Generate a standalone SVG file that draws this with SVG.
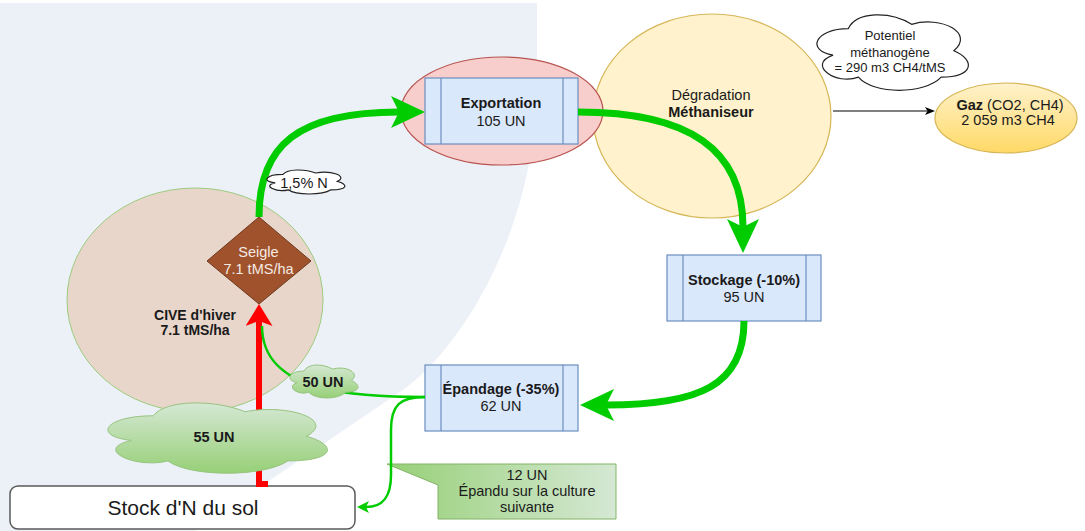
<svg xmlns="http://www.w3.org/2000/svg" width="1085" height="531" viewBox="0 0 1085 531">
<style>
.t{font-family:"Liberation Sans",Arial,Helvetica,sans-serif;font-size:14.5px;fill:#1a1a1a;text-anchor:middle}
.b{font-weight:bold}
.box{fill:#dae8fc;stroke:#6c8ebf;stroke-width:1.2}
.inner{stroke:#6c8ebf;stroke-width:1.2}
.thick{fill:none;stroke:#00cc00;stroke-width:7}
.thin{fill:none;stroke:#00cc00;stroke-width:2.5}
.gc{fill:url(#gGreen);stroke:#97c47f;stroke-width:1}
.wc{fill:#ffffff;stroke:#222222;stroke-width:1.2}
</style>
<defs>
<path id="cloud" vector-effect="non-scaling-stroke" d="M25,25 C5,25 0,50 16,55 C0,66 18,90 31,80 C40,100 70,100 80,80 C100,80 100,60 87.5,50 C100,30 80,10 62.5,20 C50,5 30,5 25,25 Z"/>
<linearGradient id="gGreen" x1="0" y1="0" x2="0" y2="1"><stop offset="0" stop-color="#d5e8d4"/><stop offset="1" stop-color="#97d077"/></linearGradient>
<linearGradient id="gCallout" x1="0" y1="0" x2="1" y2="0"><stop offset="0" stop-color="#97d077"/><stop offset="1" stop-color="#d5e8d4"/></linearGradient>
<linearGradient id="gGaz" x1="0" y1="0" x2="0" y2="1"><stop offset="0" stop-color="#fff2cc"/><stop offset="1" stop-color="#ffd966"/></linearGradient>
<marker id="aThick" viewBox="0 0 34 32" refX="8" refY="16" markerWidth="34" markerHeight="32" markerUnits="userSpaceOnUse" orient="auto"><path d="M0,0 L34,16 L0,32 L8,16 Z" fill="#00cc00"/></marker>
<marker id="aRed" viewBox="0 0 22 27" refX="5" refY="13.5" markerWidth="22" markerHeight="27" markerUnits="userSpaceOnUse" orient="auto"><path d="M0,0 L22,13.5 L0,27 L5,13.5 Z" fill="#ff0000"/></marker>
<marker id="aThin" viewBox="0 0 12 12" refX="3" refY="6" markerWidth="12" markerHeight="12" markerUnits="userSpaceOnUse" orient="auto"><path d="M0,0 L12,6 L0,12 L3,6 Z" fill="#00cc00"/></marker>
<marker id="aBlack" viewBox="0 0 10 8" refX="2.5" refY="4" markerWidth="10" markerHeight="8" markerUnits="userSpaceOnUse" orient="auto"><path d="M0,0 L10,4 L0,8 L2.5,4 Z" fill="#000000"/></marker>
</defs>

<path id="background" d="M0,3 H537 V80 C537,230 460,351 400,392 L195,531 H0 Z" fill="#ecf0f7"/>

<g id="cive">
<ellipse cx="195" cy="300" rx="128" ry="112" fill="#e8d6cb" stroke="#9ccc7e" stroke-width="1"/>
<text class="t b" style="font-size:14px"><tspan x="195" y="320">CIVE d'hiver</tspan><tspan x="195" y="335">7.1 tMS/ha</tspan></text>
</g>

<g id="methaniseur">
<ellipse cx="712" cy="116" rx="119" ry="102" fill="#fff2cc" stroke="#d6b656" stroke-width="1.2"/>
<text class="t"><tspan x="711" y="100">Dégradation</tspan><tspan x="711" y="117" font-weight="bold">Méthaniseur</tspan></text>
</g>

<g id="exportation">
<ellipse cx="502" cy="111" rx="101" ry="54" fill="#f8cecc" stroke="#b85450" stroke-width="1.2"/>
<rect class="box" x="425" y="78" width="153" height="66"/>
<line class="inner" x1="441" y1="78" x2="441" y2="144"/>
<line class="inner" x1="563" y1="78" x2="563" y2="144"/>
<text class="t"><tspan x="501" y="108" font-weight="bold">Exportation</tspan><tspan x="501" y="126">105 UN</tspan></text>
</g>

<g id="gaz">
<ellipse cx="1006" cy="118" rx="71" ry="35" fill="url(#gGaz)" stroke="#d6b656" stroke-width="1.2"/>
<text class="t"><tspan x="1010" y="110"><tspan font-weight="bold">Gaz</tspan> (CO2, CH4)</tspan><tspan x="1008" y="125">2 059 m3 CH4</tspan></text>
</g>

<g id="stockage">
<rect class="box" x="667" y="255" width="154" height="66"/>
<line class="inner" x1="683" y1="255" x2="683" y2="321"/>
<line class="inner" x1="806" y1="255" x2="806" y2="321"/>
<text class="t"><tspan x="744" y="285" font-weight="bold">Stockage (-10%)</tspan><tspan x="744" y="302">95 UN</tspan></text>
</g>

<g id="epandage">
<rect class="box" x="425" y="365" width="153" height="66"/>
<line class="inner" x1="441" y1="365" x2="441" y2="431"/>
<line class="inner" x1="563" y1="365" x2="563" y2="431"/>
<text class="t"><tspan x="501" y="394" font-weight="bold">Épandage (-35%)</tspan><tspan x="501" y="411">62 UN</tspan></text>
</g>

<g id="stock-sol">
<rect x="10" y="486" width="345" height="43" rx="8" fill="#ffffff" stroke="#595959" stroke-width="1.5"/>
<text class="t" style="font-size:21px"><tspan x="183" y="515">Stock d'N du sol</tspan></text>
</g>

<g id="callout-12un">
<polygon points="387,464 616,464 616,519 438,519 438,485" fill="url(#gCallout)" stroke="#82b366" stroke-width="1"/>
<text class="t"><tspan x="527" y="480">12 UN</tspan><tspan x="527" y="496">Épandu sur la culture</tspan><tspan x="527" y="512">suivante</tspan></text>
</g>

<g id="connectors">
<path class="thick" d="M259,217 C259,145 298,112 399,112" marker-end="url(#aThick)"/>
<path class="thick" d="M578,112 C690,112 743,150 743,227" marker-end="url(#aThick)"/>
<path class="thick" d="M744,321 C744,385 700,405 606,405" marker-end="url(#aThick)"/>
<path d="M268,484 H259 V321" fill="none" stroke="#ff0000" stroke-width="6" marker-end="url(#aRed)"/>
<path class="thin" d="M425,397 C390,397 350,395 320,388 C285,378 262,360 262,326"/>
<path class="thin" d="M425,397 C400,397 391,405 391,430 L391,475 C391,497 383,507 366,507" marker-end="url(#aThin)"/>
<path d="M833,111 L927.5,111" fill="none" stroke="#000000" stroke-width="1.2" marker-end="url(#aBlack)"/>
</g>

<g id="seigle">
<polygon points="259,217 311,261 259,304 207,261" fill="#a0522d" stroke="#6d3a1f" stroke-width="1"/>
<text class="t" style="fill:#f4ebe5"><tspan x="258.5" y="257">Seigle</tspan><tspan x="258.5" y="274">7.1 tMS/ha</tspan></text>
</g>

<g id="label-15n">
<use href="#cloud" class="wc" transform="translate(261.3,167.4) scale(0.87,0.28)"/>
<text class="t"><tspan x="304" y="188">1,5% N</tspan></text>
</g>

<g id="label-50un">
<use href="#cloud" class="gc" transform="translate(285,361.4) scale(0.76,0.385)"/>
<text class="t b"><tspan x="323" y="387">50 UN</tspan></text>
</g>

<g id="label-55un">
<use href="#cloud" class="gc" transform="translate(92,395.3) scale(2.45,0.82)"/>
<text class="t b"><tspan x="214" y="442">55 UN</tspan></text>
</g>

<g id="potentiel">
<use href="#cloud" class="wc" transform="translate(806,6.7) scale(1.69,0.88)"/>
<text class="t" style="font-size:13px"><tspan x="890" y="40">Potentiel</tspan><tspan x="890" y="57">méthanogène</tspan><tspan x="890" y="72">= 290 m3 CH4/tMS</tspan></text>
</g>
</svg>
